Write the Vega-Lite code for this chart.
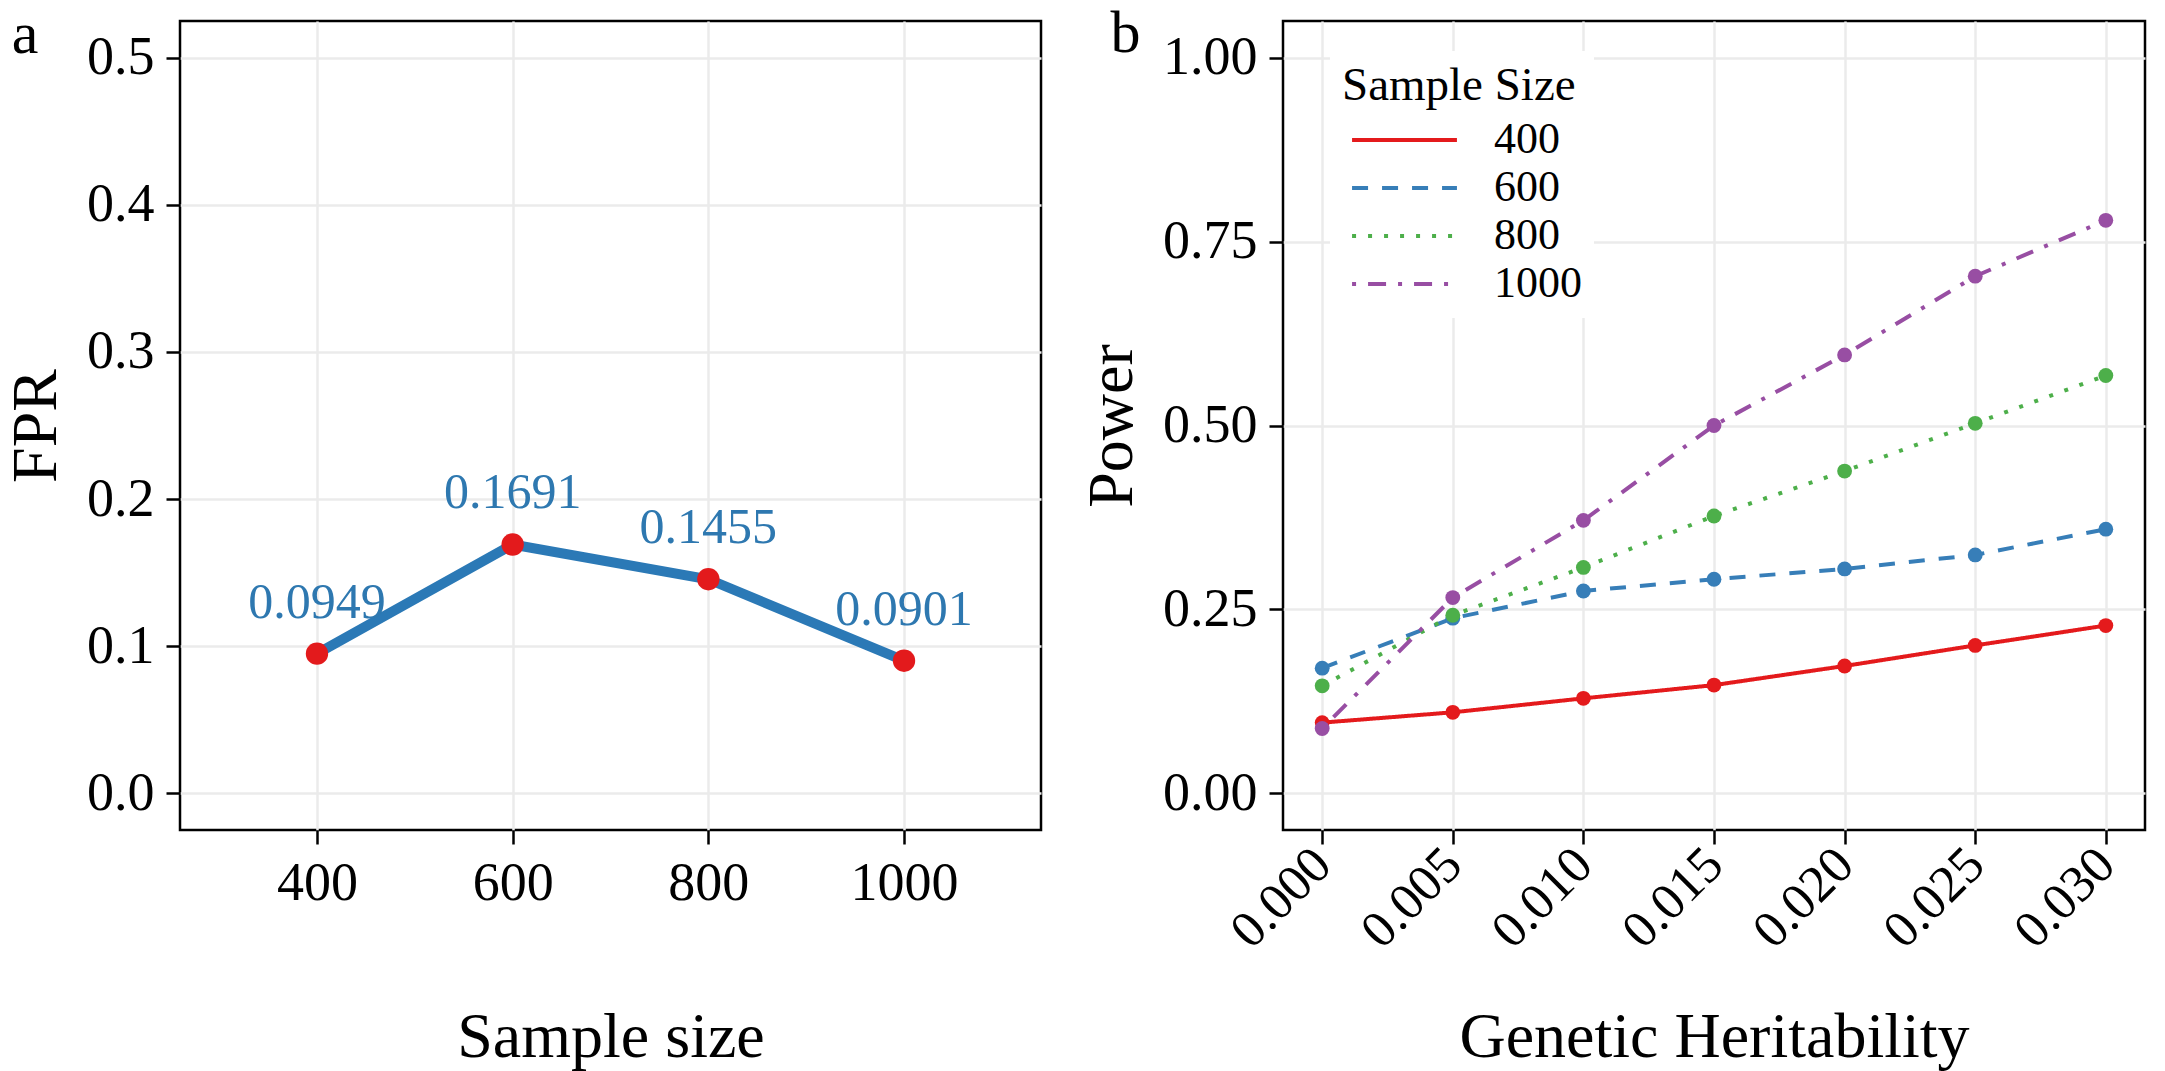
{
  "$schema": "https://vega.github.io/schema/vega-lite/v6.json",
  "background": "white",
  "padding": {"left": 3, "top": 2, "right": 5, "bottom": 0},
  "spacing": 36,
  "resolve": {
    "scale": {"color": "independent", "strokeDash": "independent"},
    "legend": {"color": "independent", "strokeDash": "independent"}
  },
  "hconcat": [
    {
      "width": 861,
      "height": 809,
      "data": {
        "values": [
          {"size": 400, "fpr": 0.0949},
          {"size": 600, "fpr": 0.1691},
          {"size": 800, "fpr": 0.1455},
          {"size": 1000, "fpr": 0.0901},
          {"panel": "a"}
        ]
      },
      "layer": [
        {
          "transform": [{"filter": "isValid(datum.fpr)"}],
          "encoding": {
            "x": {
              "field": "size",
              "type": "quantitative",
              "scale": {"domain": [260, 1140], "nice": false, "zero": false},
              "axis": {
                "title": "Sample size",
                "values": [400, 600, 800, 1000],
                "format": "d",
                "titlePadding": 95
              }
            },
            "y": {
              "field": "fpr",
              "type": "quantitative",
              "scale": {"domain": [-0.025, 0.525], "nice": false, "zero": false},
              "axis": {
                "title": "FPR",
                "values": [0, 0.1, 0.2, 0.3, 0.4, 0.5],
                "format": ".1f"
              }
            }
          },
          "layer": [
            {"mark": {"type": "line", "color": "#2b79b6", "strokeWidth": 10}},
            {"mark": {"type": "circle", "color": "#e31a1c", "size": 500, "opacity": 1}},
            {
              "mark": {
                "type": "text",
                "color": "#2e78b0",
                "fontSize": 50,
                "font": "Liberation Serif",
                "baseline": "alphabetic",
                "dy": -36
              },
              "encoding": {"text": {"field": "fpr", "type": "quantitative", "format": ".4f"}}
            }
          ]
        },
        {
          "transform": [{"filter": "datum.panel == 'a'"}],
          "mark": {
            "type": "text",
            "color": "black",
            "fontSize": 60,
            "font": "Liberation Serif",
            "align": "left",
            "baseline": "alphabetic",
            "clip": false
          },
          "encoding": {
            "x": {"datum": 88, "type": "quantitative"},
            "y": {"datum": 0.503, "type": "quantitative"},
            "text": {"field": "panel", "type": "nominal"}
          }
        }
      ]
    },
    {
      "width": 862,
      "height": 809,
      "data": {
        "values": [
          {"h": 0.000, "n": "400", "power": 0.096},
          {"h": 0.005, "n": "400", "power": 0.110},
          {"h": 0.010, "n": "400", "power": 0.129},
          {"h": 0.015, "n": "400", "power": 0.147},
          {"h": 0.020, "n": "400", "power": 0.173},
          {"h": 0.025, "n": "400", "power": 0.201},
          {"h": 0.030, "n": "400", "power": 0.228},
          {"h": 0.000, "n": "600", "power": 0.170},
          {"h": 0.005, "n": "600", "power": 0.238},
          {"h": 0.010, "n": "600", "power": 0.275},
          {"h": 0.015, "n": "600", "power": 0.291},
          {"h": 0.020, "n": "600", "power": 0.305},
          {"h": 0.025, "n": "600", "power": 0.324},
          {"h": 0.030, "n": "600", "power": 0.359},
          {"h": 0.000, "n": "800", "power": 0.146},
          {"h": 0.005, "n": "800", "power": 0.242},
          {"h": 0.010, "n": "800", "power": 0.307},
          {"h": 0.015, "n": "800", "power": 0.377},
          {"h": 0.020, "n": "800", "power": 0.438},
          {"h": 0.025, "n": "800", "power": 0.503},
          {"h": 0.030, "n": "800", "power": 0.568},
          {"h": 0.000, "n": "1000", "power": 0.088},
          {"h": 0.005, "n": "1000", "power": 0.266},
          {"h": 0.010, "n": "1000", "power": 0.371},
          {"h": 0.015, "n": "1000", "power": 0.500},
          {"h": 0.020, "n": "1000", "power": 0.596},
          {"h": 0.025, "n": "1000", "power": 0.703},
          {"h": 0.030, "n": "1000", "power": 0.779},
          {"panel": "b"}
        ]
      },
      "layer": [
        {
          "transform": [{"filter": "isValid(datum.power)"}],
          "encoding": {
            "x": {
              "field": "h",
              "type": "quantitative",
              "scale": {"domain": [-0.0015, 0.0315], "nice": false, "zero": false},
              "axis": {
                "title": "Genetic Heritability",
                "values": [0, 0.005, 0.01, 0.015, 0.02, 0.025, 0.03],
                "format": ".3f",
                "labelAngle": -45,
                "labelAlign": "right",
                "labelBaseline": "middle",
                "labelFontSize": 52,
                "titlePadding": 48
              }
            },
            "y": {
              "field": "power",
              "type": "quantitative",
              "scale": {"domain": [-0.05, 1.05], "nice": false, "zero": false},
              "axis": {
                "title": "Power",
                "values": [0, 0.25, 0.5, 0.75, 1],
                "format": ".2f"
              }
            },
            "color": {
              "field": "n",
              "type": "nominal",
              "sort": ["400", "600", "800", "1000"],
              "scale": {
                "domain": ["400", "600", "800", "1000"],
                "range": ["#e41a1c", "#377eb8", "#4daf4a", "#984ea3"]
              }
            }
          },
          "layer": [
            {
              "mark": {"type": "line", "strokeWidth": 4},
              "encoding": {
                "strokeDash": {
                  "field": "n",
                  "type": "nominal",
                  "sort": ["400", "600", "800", "1000"],
                  "scale": {
                    "domain": ["400", "600", "800", "1000"],
                    "range": [[1, 0], [16, 14], [4, 12], [4, 12, 18, 12]]
                  },
                  "legend": {
                    "title": "Sample Size",
                    "orient": "none",
                    "legendX": 47,
                    "legendY": 30,
                    "fillColor": "white",
                    "padding": 12,
                    "symbolType": "stroke",
                    "symbolSize": 11000,
                    "symbolStrokeWidth": 4,
                    "symbolOffset": 8,
                    "clipHeight": 44,
                    "labelOffset": 35,
                    "rowPadding": 4,
                    "titlePadding": 8,
                    "titleLimit": 400
                  }
                },
                "color": {
                  "field": "n",
                  "type": "nominal",
                  "sort": ["400", "600", "800", "1000"],
                  "legend": {
                    "title": "Sample Size",
                    "orient": "none",
                    "legendX": 47,
                    "legendY": 30,
                    "fillColor": "white",
                    "padding": 12,
                    "symbolType": "stroke",
                    "symbolSize": 11000,
                    "symbolStrokeWidth": 4,
                    "symbolOffset": 8,
                    "clipHeight": 44,
                    "labelOffset": 35,
                    "rowPadding": 4,
                    "titlePadding": 8,
                    "titleLimit": 400
                  }
                }
              }
            },
            {
              "mark": {"type": "circle", "size": 220, "opacity": 1},
              "encoding": {
                "color": {
                  "field": "n",
                  "type": "nominal",
                  "sort": ["400", "600", "800", "1000"],
                  "legend": null
                }
              }
            }
          ]
        },
        {
          "transform": [{"filter": "datum.panel == 'b'"}],
          "mark": {
            "type": "text",
            "color": "black",
            "fontSize": 60,
            "font": "Liberation Serif",
            "align": "left",
            "baseline": "alphabetic",
            "clip": false
          },
          "encoding": {
            "x": {"datum": -0.0081, "type": "quantitative"},
            "y": {"datum": 1.008, "type": "quantitative"},
            "text": {"field": "panel", "type": "nominal"}
          }
        }
      ]
    }
  ],
  "config": {
    "font": "Liberation Serif",
    "view": {"stroke": "black", "strokeWidth": 2.5},
    "axis": {
      "labelFont": "Liberation Serif",
      "labelFontSize": 54,
      "labelColor": "black",
      "labelPadding": 12,
      "titleFont": "Liberation Serif",
      "titleFontSize": 64,
      "titleFontWeight": "normal",
      "titleColor": "black",
      "titlePadding": 18,
      "domain": false,
      "ticks": true,
      "tickColor": "black",
      "tickWidth": 2.5,
      "tickSize": 14,
      "grid": true,
      "gridColor": "#ebebeb",
      "gridWidth": 2.5,
      "labelFlush": false,
      "labelOverlap": false
    },
    "legend": {
      "titleFont": "Liberation Serif",
      "titleFontSize": 47,
      "titleFontWeight": "normal",
      "titleColor": "black",
      "labelFont": "Liberation Serif",
      "labelFontSize": 44,
      "labelColor": "black"
    }
  }
}
